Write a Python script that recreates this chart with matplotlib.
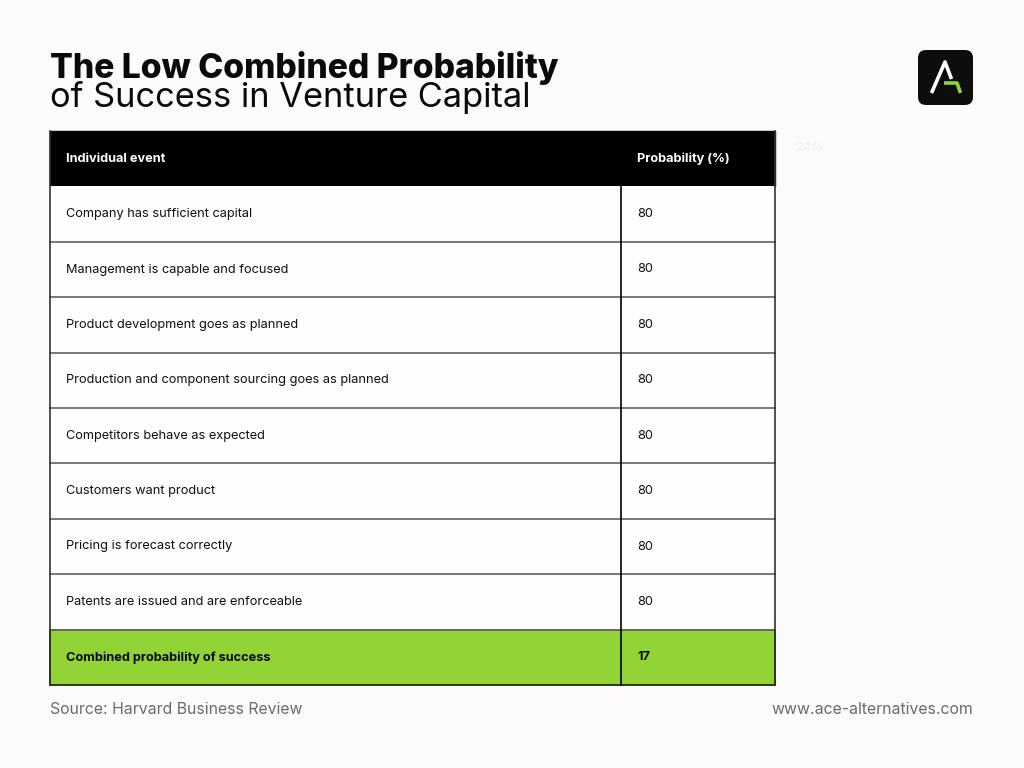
import matplotlib.pyplot as plt
from matplotlib.patches import Rectangle, FancyBboxPatch

plt.rcParams["font.family"] = ["Inter", "DejaVu Sans"]

title_bold = "The Low Combined Probability"
title_light = "of Success in Venture Capital"
header = ["Individual event", "Probability (%)"]
events = [
    "Company has sufficient capital",
    "Management is capable and focused",
    "Product development goes as planned",
    "Production and component sourcing goes as planned",
    "Competitors behave as expected",
    "Customers want product",
    "Pricing is forecast correctly",
    "Patents are issued and are enforceable",
]
probs = [80, 80, 80, 80, 80, 80, 80, 80]
total_label = "Combined probability of success"
total_value = 17
source = "Source: Harvard Business Review"
website = "www.ace-alternatives.com"

bg = "#fdfafa"
green = "#92d336"

fig = plt.figure(figsize=(10.24, 7.68), dpi=100, facecolor=bg)
ax = fig.add_axes([0, 0, 1, 1])
ax.set_xlim(0, 1024)
ax.set_ylim(768, 0)
ax.axis("off")

# title
ax.text(50, 78, title_bold, fontsize=24.3, fontweight="heavy", color="#0a0a0a", va="baseline")
ax.text(50, 107.5, title_light, fontsize=24.8, fontweight="normal", color="#0a0a0a", va="baseline")

# logo
ax.add_patch(FancyBboxPatch((918, 50), 55, 55, boxstyle="round,pad=0,rounding_size=8",
                            fc="#0d0d0d", ec="none"))
ax.plot([931.5, 945, 951.5], [93, 62, 79], color="white", lw=2.6, solid_capstyle="butt")
ax.plot([944, 957, 960.5], [83, 83, 93], color=green, lw=2.6, solid_capstyle="butt")

# table
x0, xs, x1 = 50, 621, 775
top = 131
rh = 55.4
n = len(events) + 2

ax.add_patch(Rectangle((x0, top), x1 - x0, rh, fc="black", ec="black", lw=1))
ax.text(x0 + 16, top + rh / 2, header[0], fontsize=9.2, fontweight="bold", color="white", va="center")
ax.text(xs + 16, top + rh / 2, header[1], fontsize=9.2, fontweight="bold", color="white", va="center")
ax.text(795, top + 17, "24%", fontsize=9, fontweight="bold", color="#f7f2f2", va="center")

for i, (ev, p) in enumerate(zip(events, probs)):
    y = top + rh * (i + 1)
    ax.add_patch(Rectangle((x0, y), x1 - x0, rh, fc="#fffcfc", ec="none"))
    ax.text(x0 + 16, y + rh / 2, ev, fontsize=9.2, color="#111111", va="center")
    ax.text(xs + 16, y + rh / 2, str(p), fontsize=9.2, color="#111111", va="center")
    ax.plot([x0, x1], [y + rh, y + rh], color="#6e6e6e", lw=1.3)

yt = top + rh * (n - 1)
ax.add_patch(Rectangle((x0, yt), x1 - x0, rh, fc=green, ec="#1f2a10", lw=1.3))
ax.text(x0 + 16, yt + rh / 2, total_label, fontsize=9.2, fontweight="bold", color="#0a0a0a", va="center")
ax.text(xs + 16, yt + rh / 2, str(total_value), fontsize=9.2, fontweight="bold", color="#0a0a0a", va="center")

# outer borders and column divider
ybot = top + rh * n
ax.plot([x0, x0], [top, ybot], color="#333333", lw=1.2)
ax.plot([x1, x1], [top, ybot], color="#333333", lw=1.2)
ax.plot([xs, xs], [top + rh, ybot], color="black", lw=1.2)

# footer
ax.text(50, 709, source, fontsize=11.4, color="#6b6b6b", va="center")
ax.text(973, 709, website, fontsize=11.4, color="#6b6b6b", va="center", ha="right")

fig.savefig("out.png", dpi=100, facecolor=bg)
